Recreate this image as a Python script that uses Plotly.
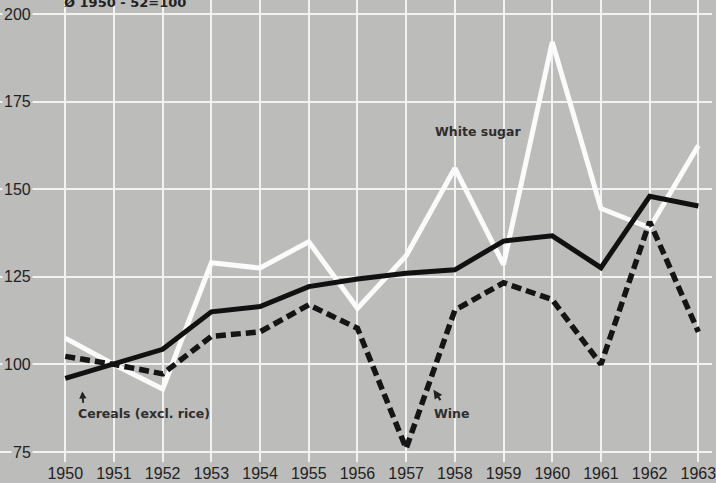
import plotly.graph_objects as go

years = list(range(1950, 1964))
white_sugar = [107.5, 100, 93, 129, 127.5, 135, 116, 131, 156, 128.5, 192, 144.5, 139, 162.5]
cereals = [96, 100, 104.3, 115, 116.5, 122.2, 124.4, 126, 127, 135.2, 136.7, 127.6, 148, 145.2]
wine = [102.3, 100, 97.3, 108, 109.3, 117, 110.3, 76, 115.5, 123.3, 118.5, 100, 140.7, 109.3]
y_ticks = [75, 100, 125, 150, 175, 200]
x_ticks = years
title_text = "Ø 1950 - 52=100"

BG = "#bcbcba"
TXT = "#222222"
TICKFONT = "Liberation Sans Narrow, Liberation Sans, Arial, sans-serif"
LABFONT = "DejaVu Sans, Liberation Sans, sans-serif"

fig = go.Figure()
fig.add_trace(go.Scatter(x=years, y=white_sugar, mode="lines", name="White sugar",
                         line=dict(color="#fbfbfb", width=5), showlegend=False))
fig.add_trace(go.Scatter(x=years, y=wine, mode="lines", name="Wine",
                         line=dict(color="#151515", width=5.5, dash="10px,5px"), showlegend=False))
fig.add_trace(go.Scatter(x=years, y=cereals, mode="lines", name="Cereals (excl. rice)",
                         line=dict(color="#111111", width=5), showlegend=False))

annotations = []
for v in y_ticks:
    annotations.append(dict(x=33 / 716, xref="paper", y=v, yref="y", xanchor="right", yanchor="middle",
                            text=str(v), showarrow=False, bgcolor=BG, borderpad=1,
                            font=dict(family=TICKFONT, size=16, color=TXT)))

annotations.append(dict(x=1957.55, y=166.4, xanchor="left", yanchor="middle", text="<b>White sugar</b>",
                        showarrow=False, font=dict(family=LABFONT, size=12.5, color="#2e2e2e")))
annotations.append(dict(x=1950.23, y=86.1, xanchor="left", yanchor="middle", text="<b>Cereals (excl. rice)</b>",
                        showarrow=False, font=dict(family=LABFONT, size=12.5, color="#2e2e2e")))
annotations.append(dict(x=1957.54, y=86.1, xanchor="left", yanchor="middle", text="<b>Wine</b>",
                        showarrow=False, font=dict(family=LABFONT, size=12.5, color="#2e2e2e")))
annotations.append(dict(x=1950.35, y=92.3, ax=1, ay=13, text="", showarrow=True, arrowhead=2,
                        arrowsize=0.8, arrowwidth=1.8, arrowcolor="#222222"))
annotations.append(dict(x=1957.56, y=92.8, ax=8, ay=12, text="", showarrow=True, arrowhead=2,
                        arrowsize=0.9, arrowwidth=2, arrowcolor="#222222"))
annotations.append(dict(x=62 / 716, xref="paper", y=1 - 2.5 / 462, yref="paper", xanchor="left",
                        yanchor="middle", text="<b>" + title_text + "</b>", showarrow=False,
                        font=dict(family=LABFONT, size=13, color="#222222")))

fig.update_layout(
    width=716, height=483,
    margin=dict(l=0, r=0, t=0, b=21),
    paper_bgcolor=BG, plot_bgcolor=BG,
    annotations=annotations,
    xaxis=dict(range=[1948.66, 1963.28], tickmode="array", tickvals=x_ticks,
               ticktext=[str(y) for y in x_ticks], showgrid=True, gridcolor="#f2f2f2", gridwidth=1.5,
               zeroline=False, showline=False, ticks="", ticklen=0, ticklabeloverflow="allow",
               tickfont=dict(family=TICKFONT, size=16, color=TXT)),
    yaxis=dict(range=[72.15, 204.0], tickmode="array", tickvals=y_ticks, showticklabels=False,
               showgrid=True, gridcolor="#f2f2f2", gridwidth=2, zeroline=False, showline=False),
)

fig.write_html("out.html", config={"displayModeBar": False},
               post_script="document.body.style.margin='0';document.body.style.padding='0';"
                           "document.body.style.background='" + BG + "';")
